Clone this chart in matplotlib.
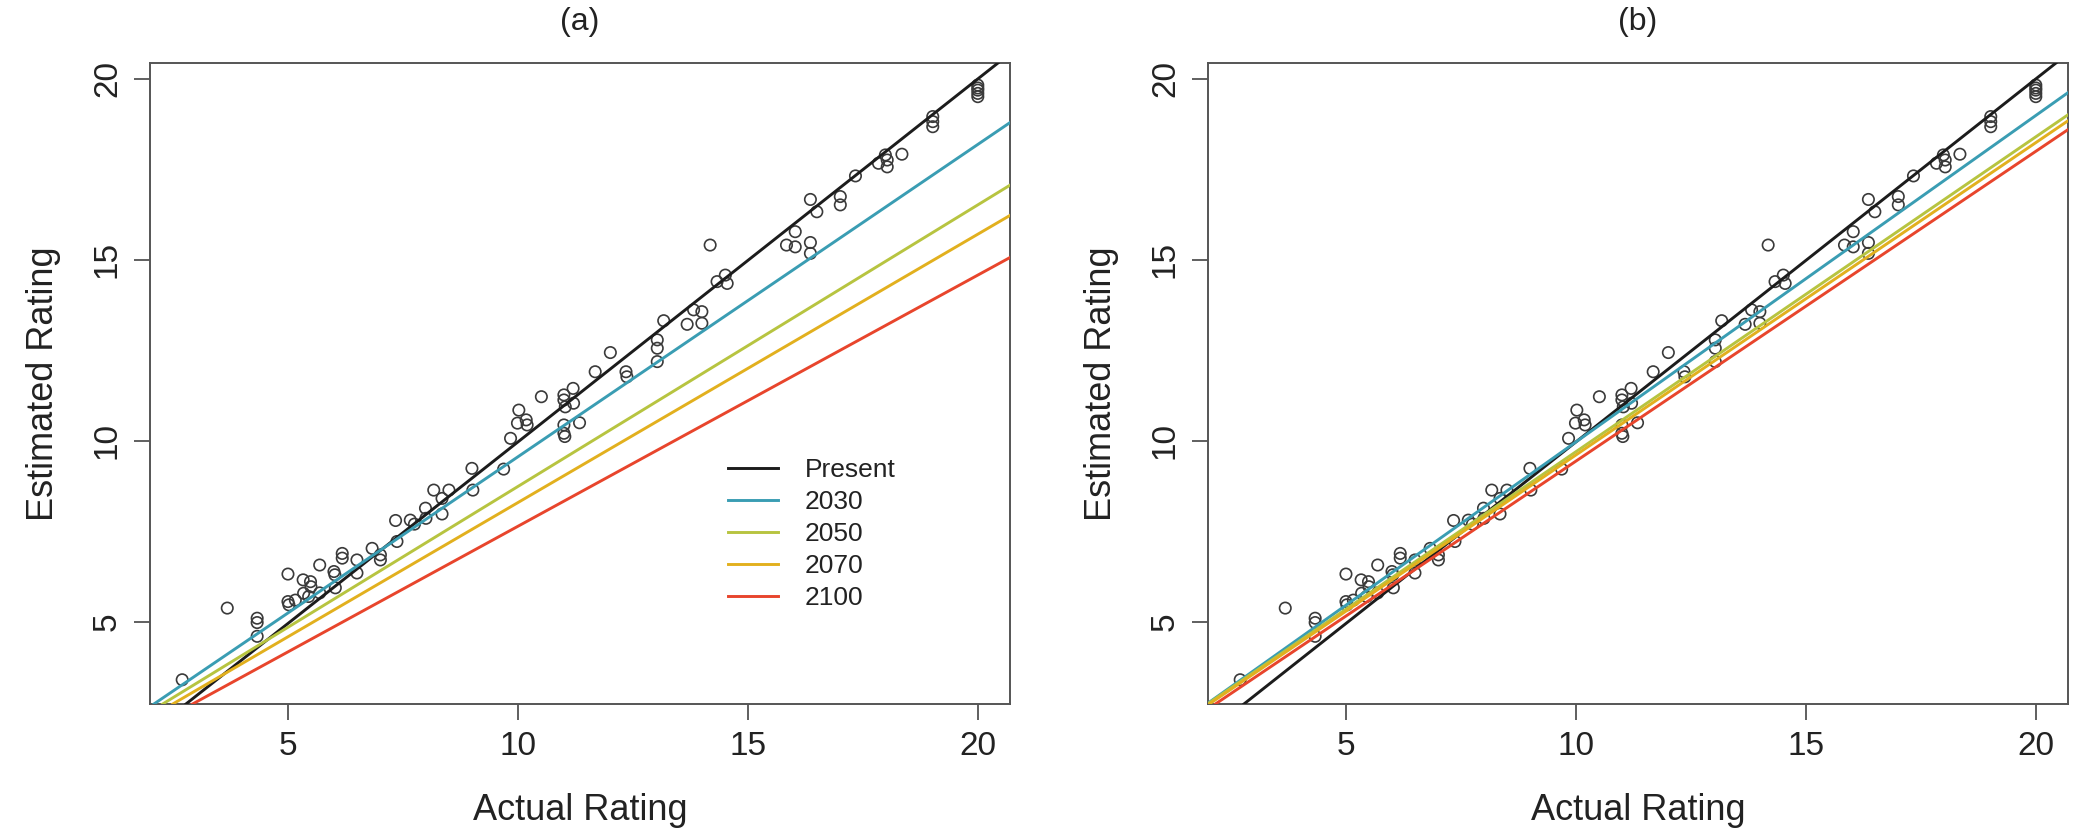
import matplotlib
matplotlib.use("Agg")
import matplotlib.pyplot as plt
import numpy as np

plt.rcParams['font.family'] = ['Liberation Sans', 'DejaVu Sans']

# ---- data ----
actual = [2.7, 3.68, 4.33, 4.33, 4.33, 5.0, 5.0, 5.02, 5.16, 5.33, 5.34, 5.49, 5.5, 5.45,
          5.69, 5.69, 6.0, 6.02, 6.03, 6.18, 6.18, 6.5, 6.5, 6.83, 7.01, 7.01, 7.34, 7.37,
          7.66, 7.75, 7.99, 8.0, 8.17, 8.35, 8.5, 8.35, 9.0, 9.02, 9.69, 9.84, 10.02, 9.99,
          10.18, 10.2, 10.51, 11.0, 11.0, 11.03, 11.2, 11.21, 11.0, 11.0, 11.02, 11.34,
          11.68, 12.01, 12.35, 12.37, 13.03, 13.03, 13.03, 13.17, 13.68, 13.82, 14.0, 14.0,
          14.18, 14.33, 14.51, 14.55, 15.84, 16.03, 16.03, 16.36, 16.36, 16.36, 16.5,
          17.01, 17.01, 17.34, 17.84, 17.99, 18.03, 18.03, 18.35, 19.02, 19.02, 19.02,
          20.0, 20.0, 20.0, 20.0, 20.0]
estimated = [3.4, 5.38, 5.1, 4.98, 4.6, 6.32, 5.56, 5.47, 5.6, 6.16, 5.79, 6.11, 5.97, 5.7,
             6.57, 5.8, 6.39, 6.3, 5.94, 6.89, 6.76, 6.71, 6.35, 7.03, 6.85, 6.71, 7.8, 7.22,
             7.81, 7.7, 8.14, 7.86, 8.64, 8.41, 8.64, 7.98, 9.24, 8.64, 9.22, 10.07, 10.85, 10.49,
             10.58, 10.44, 11.22, 11.27, 11.13, 10.94, 11.45, 11.04, 10.44, 10.21, 10.12, 10.5,
             11.91, 12.44, 11.91, 11.77, 12.79, 12.56, 12.19, 13.32, 13.22, 13.62, 13.57, 13.25,
             15.41, 14.4, 14.58, 14.35, 15.41, 15.36, 15.78, 15.48, 15.18, 16.67, 16.33,
             16.75, 16.52, 17.32, 17.67, 17.9, 17.57, 17.76, 17.92, 18.96, 18.82, 18.68,
             19.83, 19.69, 19.6, 19.51, 19.75]

scenarios = ['Present', '2030', '2050', '2070', '2100']
colors = ['#1c1c1c', '#3a9db3', '#b7c440', '#e2b01e', '#e8452c']

# regression lines (intercept, slope) for each panel
intercepts_a = [-0.06, 0.93, 0.96, 0.88, 0.70]
slopes_a = [1.003, 0.863, 0.778, 0.7415, 0.694]
intercepts_b = [-0.06, 0.95, 1.00, 0.98, 0.88]
slopes_b = [1.003, 0.902, 0.870, 0.863, 0.856]

titles = ['(a)', '(b)']
ticks = [5, 10, 15, 20]

fig = plt.figure(figsize=(20.86, 8.36), dpi=100)
ax_a = fig.add_axes([150/2086, 1-704/836, 860/2086, 641/836])
ax_b = fig.add_axes([1208/2086, 1-704/836, 860/2086, 641/836])

txt = '#222222'
for ax, title, ints, slps in [(ax_a, titles[0], intercepts_a, slopes_a),
                              (ax_b, titles[1], intercepts_b, slopes_b)]:
    ax.scatter(actual, estimated, s=8.2**2, facecolors='none', edgecolors='#3a3a3a',
               linewidths=1.2, zorder=2)
    for name, c, b, m in zip(scenarios, colors, ints, slps):
        ax.axline((0, b), slope=m, color=c, lw=2.1, zorder=3, label=name)
    ax.set_xlim(2.0, 20.7)
    ax.set_ylim(2.73, 20.44)
    ax.set_xticks(ticks)
    ax.set_yticks(ticks)
    ax.tick_params(axis='both', direction='out', length=11.5, width=1.2, colors='#444444',
                   labelsize=24, labelcolor=txt, pad=8)
    for lab in ax.get_yticklabels():
        lab.set_rotation(90)
        lab.set_va('center')
    for sp in ax.spines.values():
        sp.set_color('#555555')
        sp.set_linewidth(1.4)
    ax.set_xlabel('Actual Rating', fontsize=26, color=txt, labelpad=22)
    ax.set_ylabel('Estimated Rating', fontsize=26, color=txt, labelpad=22)
    ax.set_title(title, fontsize=23, color=txt, pad=24)

leg = ax_a.legend(loc='upper left', bbox_to_anchor=(0.66, 0.40), frameon=False,
                  fontsize=19, handlelength=1.9, handletextpad=1.0, labelspacing=0.3,
                  borderaxespad=0)
for t in leg.get_texts():
    t.set_color(txt)

fig.savefig('out.png', dpi=100)
